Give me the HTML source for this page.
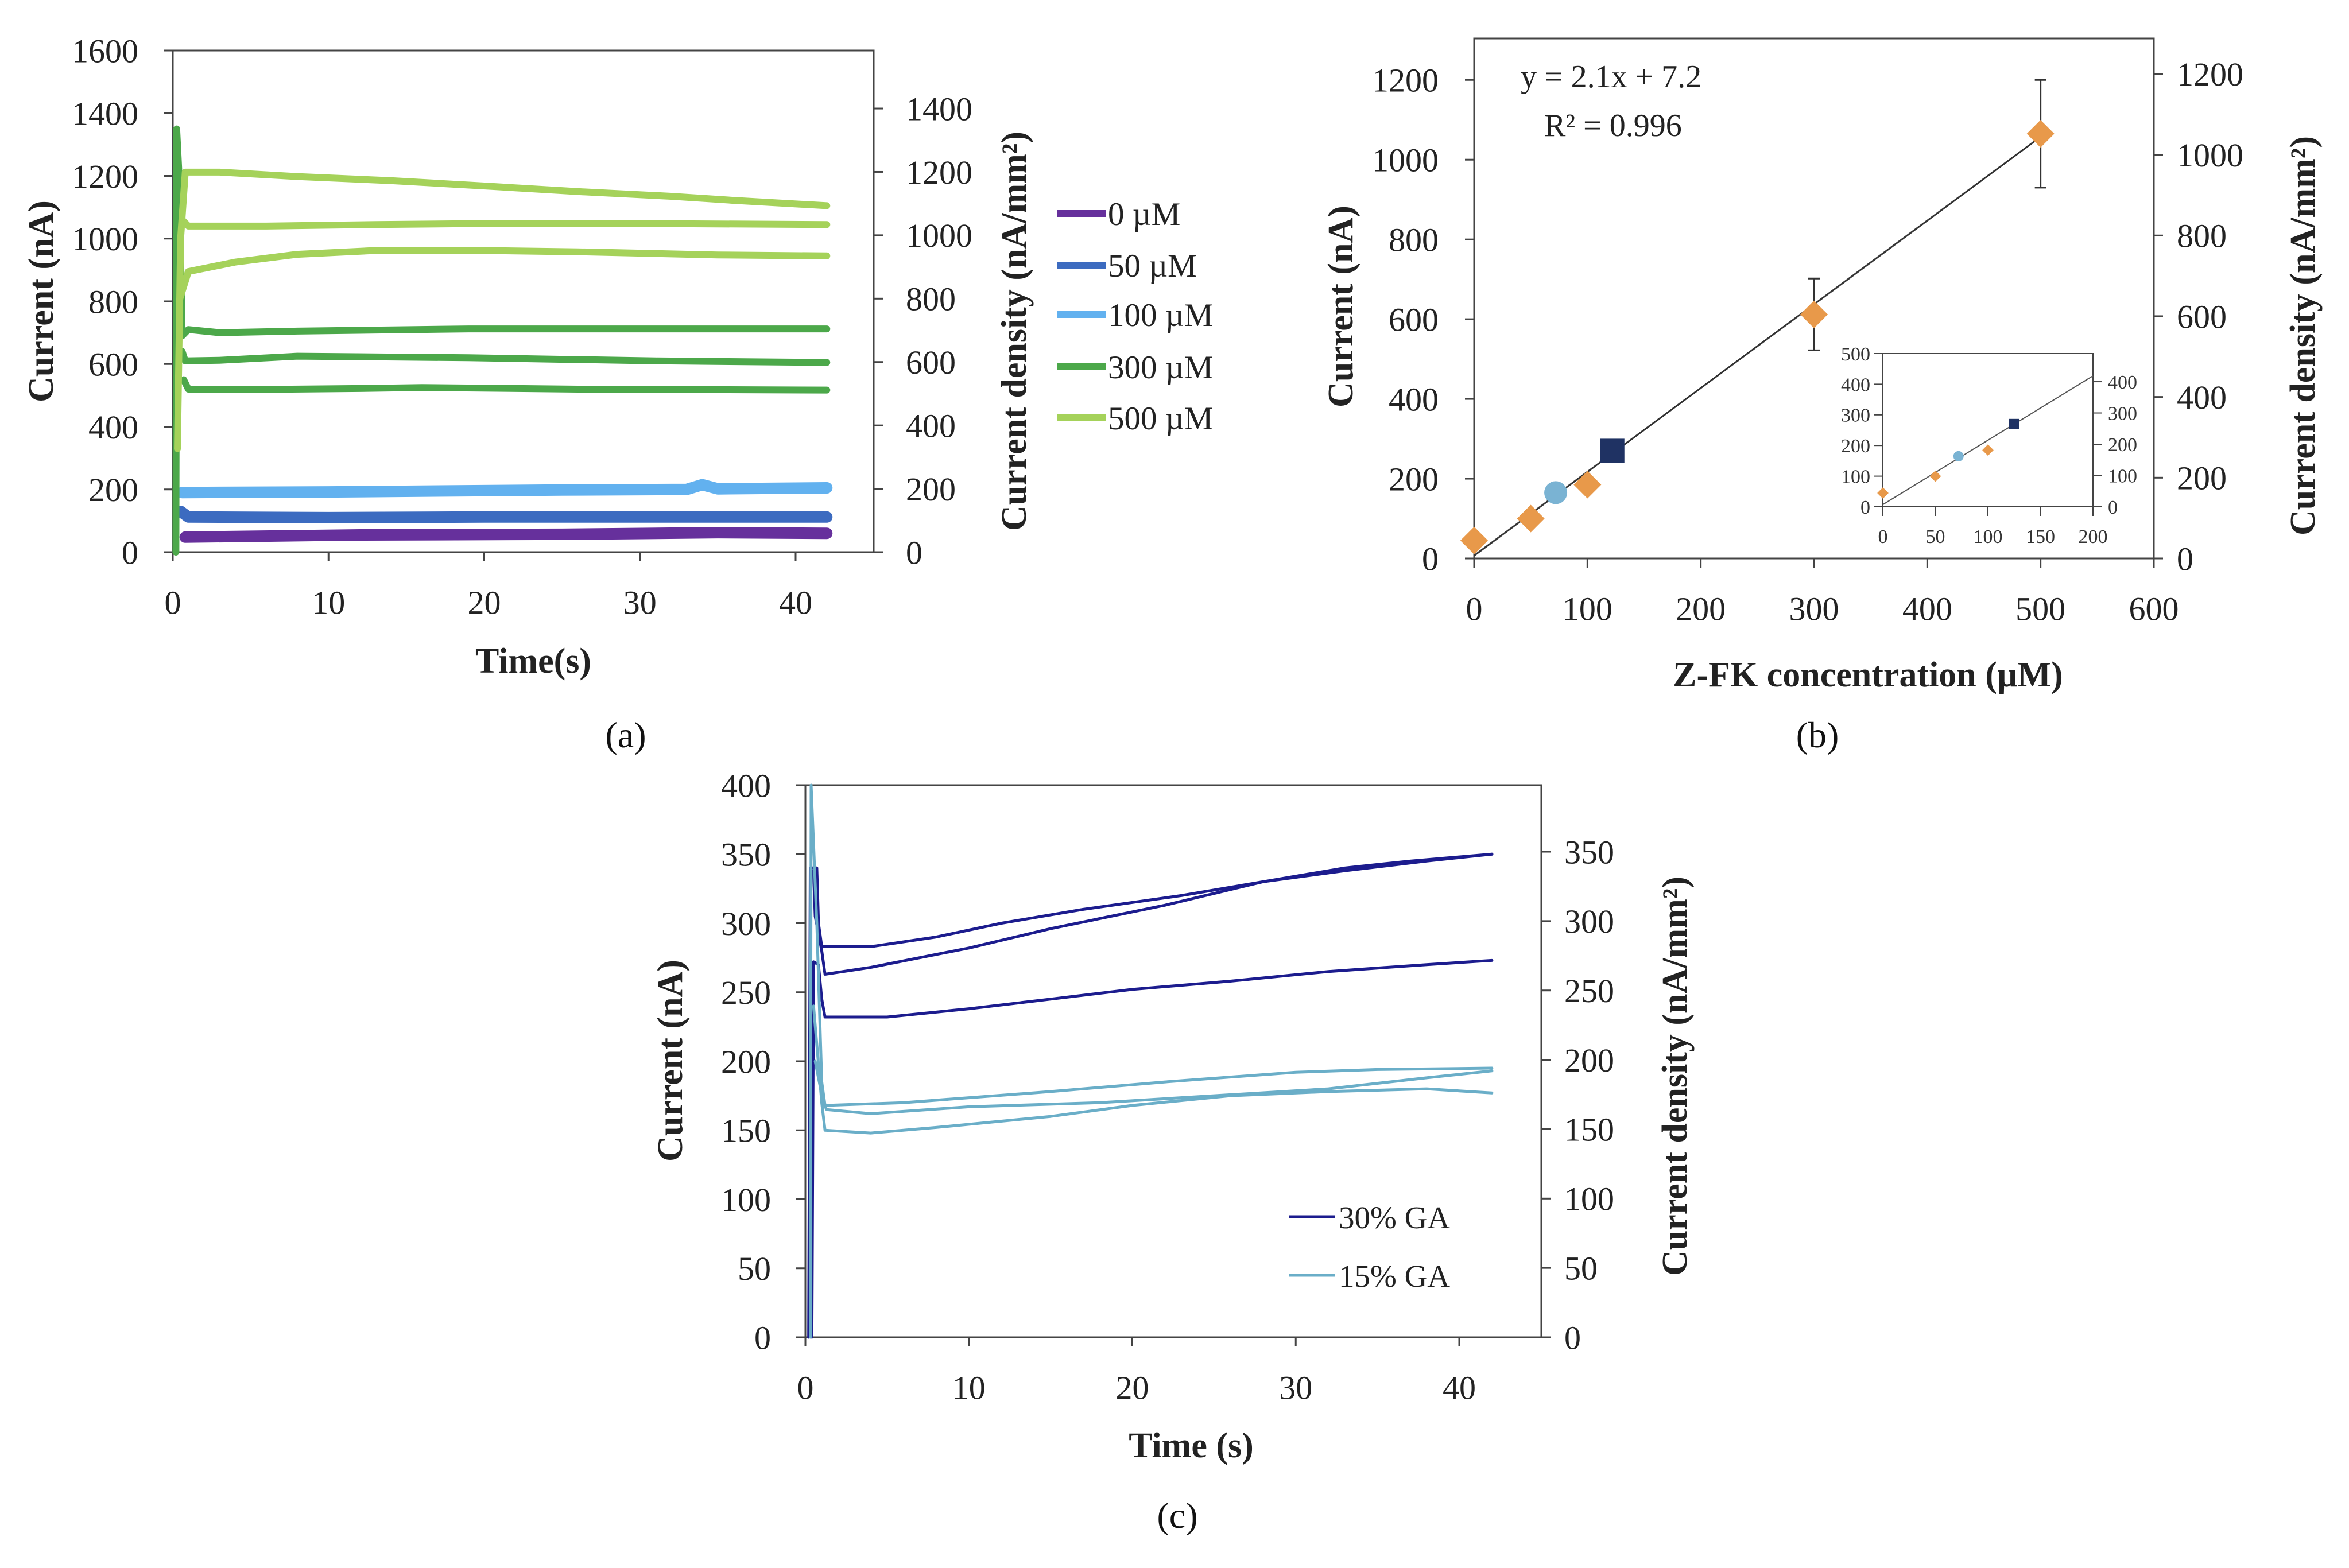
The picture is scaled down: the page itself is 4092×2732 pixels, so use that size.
<!DOCTYPE html>
<html><head><meta charset="utf-8"><style>
html,body{margin:0;padding:0;background:#fff;}
svg{display:block;font-family:"Liberation Serif",serif;}
.t{font-size:56px;fill:#222;}
.lg{font-size:57px;fill:#222;}
.ti{font-size:62px;font-weight:bold;fill:#222;}
.pl{font-size:64px;fill:#111;}
.ins{font-size:34px;fill:#333;}
</style></head><body>
<svg id="svg" width="4092" height="2732" viewBox="0 0 4092 2732" xmlns="http://www.w3.org/2000/svg"></svg>
<script>
// ===== Panel A data =====
const aTicksX=[0,10,20,30,40];
const aTicksY=[0,200,400,600,800,1000,1200,1400,1600];
const aTicksYR=[0,200,400,600,800,1000,1200,1400];
const aLegend=["0 µM","50 µM","100 µM","300 µM","500 µM"];
const aColors=["#66309c","#3c6bc0","#62b1ef","#4ca84a","#a5d25a"];
const aT0=[[0.8,48],[12,55],[25,57],[35,62],[42,60]];
const aT50=[[0.5,130],[1,112],[10,110],[20,112],[30,112],[42,112]];
const aT100=[[0.6,190],[10,192],[25,198],[33,200],[34,215],[35,202],[42,205]];
const aT300a=[[0.2,0],[0.25,1350],[0.4,1200],[0.6,690],[1,710],[3,700],[8,705],[19,712],[42,712]];
const aT300b=[[0.6,640],[0.8,610],[3,612],[8,625],[19,620],[31,610],[42,605]];
const aT300c=[[0.7,550],[1,520],[4,518],[12,522],[16,525],[26,520],[42,517]];
const aT500a=[[0.3,330],[0.5,1000],[0.8,1212],[3,1212],[8,1198],[14,1185],[20,1168],[26,1150],[32,1135],[36,1122],[42,1105]];
const aT500b=[[0.6,1060],[1,1040],[6,1040],[13,1045],[20,1048],[30,1048],[42,1045]];
const aT500c=[[0.4,800],[1,895],[4,925],[8,950],[13,962],[20,962],[26,958],[35,948],[42,945]];
// ===== Panel B data =====
const bTicksX=[0,100,200,300,400,500,600];
const bTicksY=[0,200,400,600,800,1000,1200];
const bTicksYR=[0,200,400,600,800,1000,1200];
const bDiaX=[0,50,100,300,500];
const bDiaY=[45,100,185,612,1065];
const bDiaErr=[0,0,0,90,135];
const bCircle=[72,165];
const bSquare=[122,270];
const bFit=[2.1,7.2];
const bInsTicksX=[0,50,100,150,200];
const bInsTicksY=[0,100,200,300,400,500];
const bInsTicksYR=[0,100,200,300,400];
// ===== Panel C data =====
const cTicksX=[0,10,20,30,40];
const cTicksY=[0,50,100,150,200,250,300,350,400];
const cTicksYR=[0,50,100,150,200,250,300,350];
const c30a=[[0.2,0],[0.3,340],[0.7,340],[0.8,300],[1,283],[4,283],[8,290],[12,300],[17,310],[23,320],[28,330],[33,338],[38,345],[42,350]];
const c30b=[[0.5,338],[0.6,305],[1,280],[1.2,263],[4,268],[10,282],[15,296],[22,313],[28,330],[33,340],[37,345],[42,350]];
const c30c=[[0.4,0],[0.5,272],[0.8,270],[1,245],[1.2,232],[5,232],[10,238],[15,245],[20,252],[26,258],[32,265],[38,270],[42,273]];
const c15a=[[0.3,0],[0.35,400],[0.7,300],[1,185],[1.2,168],[6,170],[15,178],[22,185],[30,192],[35,194],[42,195]];
const c15b=[[0.6,200],[1.1,170],[1.3,165],[4,162],[10,167],[18,170],[25,175],[32,180],[38,188],[42,193]];
const c15c=[[0.5,240],[1,170],[1.2,150],[4,148],[8,152],[15,160],[20,168],[26,175],[32,178],[38,180],[42,177]];

const NS="http://www.w3.org/2000/svg";
const svg=document.getElementById('svg');
function mk(tag,attrs,parent){const e=document.createElementNS(NS,tag);for(const k in attrs)e.setAttribute(k,attrs[k]);(parent||svg).appendChild(e);return e;}
function txt(s,x,y,cls,anchor,parent){const e=mk('text',{x:x,y:y,class:cls,'text-anchor':anchor||'middle'},parent);e.textContent=s;return e;}

function axes(P){
  const g=mk('g',{});
  
  
  P.sx=v=>P.L+(v-P.x0)/(P.x1-P.x0)*(P.R-P.L);
  P.sy=v=>P.B-(v-P.y0)/(P.y1-P.y0)*(P.B-P.T);
  P.syr=v=>P.B-(v)/(P.yr1)*(P.B-P.T);
  const fr=mk('rect',{x:P.L,y:P.T,width:P.R-P.L,height:P.B-P.T,fill:'none',stroke:'#444','stroke-width':3},g);
  
  
  P.tx.forEach(v=>{const x=P.sx(v);mk('line',{x1:x,y1:P.B,x2:x,y2:P.B+16,stroke:'#444','stroke-width':3},g);
    const t=txt(String(v),x,P.B+P.fs*1.85,'t','middle',g);t.style.fontSize=P.fs+'px';
    
    });
  P.ty.forEach(v=>{const y=P.sy(v);mk('line',{x1:P.L-16,y1:y,x2:P.L,y2:y,stroke:'#444','stroke-width':3},g);
    const t=txt(String(v),P.L-P.lgap,y+P.fs*0.35,'t','end',g);t.style.fontSize=P.fs+'px';
    
    });
  P.tyr.forEach(v=>{const y=P.syr(v);mk('line',{x1:P.R,y1:y,x2:P.R+16,y2:y,stroke:'#444','stroke-width':3},g);
    const t=txt(String(v),P.R+P.rgap,y+P.fs*0.35,'t','start',g);t.style.fontSize=P.fs+'px';
    
    });
  return g;
}
function trace(P,pts,color,w,name,parent){
  const d=pts.map((p,i)=>(i?'L':'M')+P.sx(p[0]).toFixed(1)+' '+P.sy(p[1]).toFixed(1)).join(' ');
  const e=mk('path',{d:d,fill:'none',stroke:color,'stroke-width':w,'stroke-linejoin':'round','stroke-linecap':'round'},parent);
  
  
  return e;
}
function vtitle(s,x,y,cls){const e=txt(s,x,y,cls,'middle');e.setAttribute('transform','rotate(-90 '+x+' '+y+')');return e;}

// ===== Panel A =====
const A={name:'panel-a',L:301,R:1522,T:88,B:962,x0:0,x1:44.3,y0:0,y1:1600,yr1:1583,tx:aTicksX,ty:aTicksY,tyr:aTicksYR,fs:58,rgap:56,lgap:60};
A.x1=40*(1522-301)/(1386-301);
const ga=axes(A);
const aSeries=[[aT0,0,'trace-0uM'],[aT50,1,'trace-50uM'],[aT100,2,'trace-100uM'],[aT300a,3,'trace-300uM-1'],[aT300b,3,'trace-300uM-2'],[aT300c,3,'trace-300uM-3'],[aT500a,4,'trace-500uM-1'],[aT500b,4,'trace-500uM-2'],[aT500c,4,'trace-500uM-3']];
aSeries.forEach(s=>trace(A,s[0],aColors[s[1]],s[1]<3?20:12,s[2],ga));
const aLegY=[372,462,548,639,728];
aLegend.forEach((s,i)=>{
  const l=mk('line',{x1:1842,y1:aLegY[i],x2:1926,y2:aLegY[i],stroke:aColors[i],'stroke-width':12});
  
  
  const t=txt(s,1930,aLegY[i]+20,'lg','start');
  
  
});
let e;
e=vtitle('Current (nA)',92,525,'ti');
e=vtitle('Current density (nA/mm²)',1787,577,'ti');
e=txt('Time(s)',929,1172,'ti');
e=txt('(a)',1090,1302,'pl');

// ===== Panel B =====
const B={name:'panel-b',L:2568,R:3752,T:67,B:973,x0:0,x1:600,y0:0,y1:1304,yr1:1288,tx:bTicksX,ty:bTicksY,tyr:bTicksYR,fs:58,rgap:40,lgap:62};
const gb=axes(B);
e=mk('line',{x1:B.sx(0),y1:B.sy(bFit[1]),x2:B.sx(500),y2:B.sy(bFit[0]*500+bFit[1]),stroke:'#333','stroke-width':3},gb);

bDiaX.forEach((x,i)=>{
  const cx=B.sx(x),cy=B.sy(bDiaY[i]);
  if(bDiaErr[i]){const y1=B.sy(bDiaY[i]+bDiaErr[i]),y2=B.sy(bDiaY[i]-bDiaErr[i]);
    const eb=mk('path',{d:`M${cx} ${y1}V${y2}M${cx-10} ${y1}H${cx+10}M${cx-10} ${y2}H${cx+10}`,stroke:'#333','stroke-width':3,fill:'none'},gb);
    }
  const p=mk('rect',{x:cx-17,y:cy-17,width:34,height:34,fill:'#e8994a',transform:`rotate(45 ${cx} ${cy})`},gb);
  
});
e=mk('circle',{cx:B.sx(bCircle[0]),cy:B.sy(bCircle[1]),r:20,fill:'#7ab3d3'},gb);

e=mk('rect',{x:B.sx(bSquare[0])-21,y:B.sy(bSquare[1])-21,width:42,height:42,fill:'#1f3263'},gb);

e=txt('y = 2.1x + 7.2',2649,152,'t','start');
e=txt('R² = 0.996',2690,237,'t','start');
e=vtitle('Current (nA)',2356,534,'ti');
e=vtitle('Current density (nA/mm²)',4032,585,'ti');
e=txt('Z-FK concentration (µM)',3254,1196,'ti');
e=txt('(b)',3166,1302,'pl');
// inset
const I={name:'inset-chart',L:3280,R:3646,T:616,B:883,x0:0,x1:200,y0:0,y1:500,yr1:490,tx:bInsTicksX,ty:bInsTicksY,tyr:bInsTicksYR,fs:34,rgap:26,lgap:22};
const gi=axes(I);
gi.querySelectorAll('line').forEach(l=>{l.setAttribute('stroke-width',2);});
gi.querySelector('rect').setAttribute('stroke-width',2);
gi.querySelector('rect').setAttribute('fill','#fff');
e=mk('line',{x1:I.sx(0),y1:I.sy(bFit[1]),x2:I.sx(200),y2:I.sy(bFit[0]*200+bFit[1]),stroke:'#555','stroke-width':2},gi);

bDiaX.forEach((x,i)=>{ if(x>200)return;
  const cx=I.sx(x),cy=I.sy(bDiaY[i]);
  const p=mk('rect',{x:cx-7,y:cy-7,width:14,height:14,fill:'#e8994a',transform:`rotate(45 ${cx} ${cy})`},gi);
  });
e=mk('circle',{cx:I.sx(bCircle[0]),cy:I.sy(bCircle[1]),r:9,fill:'#7ab3d3'},gi);

e=mk('rect',{x:I.sx(bSquare[0]+3)-9,y:I.sy(bSquare[1])-9,width:18,height:18,fill:'#1f3263'},gi);

gi.querySelectorAll('text').forEach(t=>t.setAttribute('class','ins'));

// ===== Panel C =====
const C={name:'panel-c',L:1403,R:2685,T:1368,B:2330,x0:0,x1:0,y0:0,y1:400,yr1:398,tx:cTicksX,ty:cTicksY,tyr:cTicksYR,fs:58,rgap:40,lgap:60};
C.x1=40*(2685-1403)/(2542-1403);
const gc=axes(C);
[[c30a,'#1c1c8e','trace-30GA-1'],[c30b,'#1c1c8e','trace-30GA-2'],[c30c,'#1c1c8e','trace-30GA-3'],[c15a,'#6aaec8','trace-15GA-1'],[c15b,'#6aaec8','trace-15GA-2'],[c15c,'#6aaec8','trace-15GA-3']].forEach(s=>trace(C,s[0],s[1],5,s[2],gc));
[['30% GA','#1c1c8e',2120],['15% GA','#6aaec8',2222]].forEach(s=>{
  const l=mk('line',{x1:2245,y1:s[2],x2:2326,y2:s[2],stroke:s[1],'stroke-width':5});
  
  const t=txt(s[0],2332,s[2]+20,'lg','start');
  t.style.fontSize='55px';
  });
e=vtitle('Current (nA)',1188,1848,'ti');
e=vtitle('Current density (nA/mm²)',2938,1875,'ti');
e=txt('Time (s)',2075,2539,'ti');
e=txt('(c)',2051,2662,'pl');
</script>
</body></html>
